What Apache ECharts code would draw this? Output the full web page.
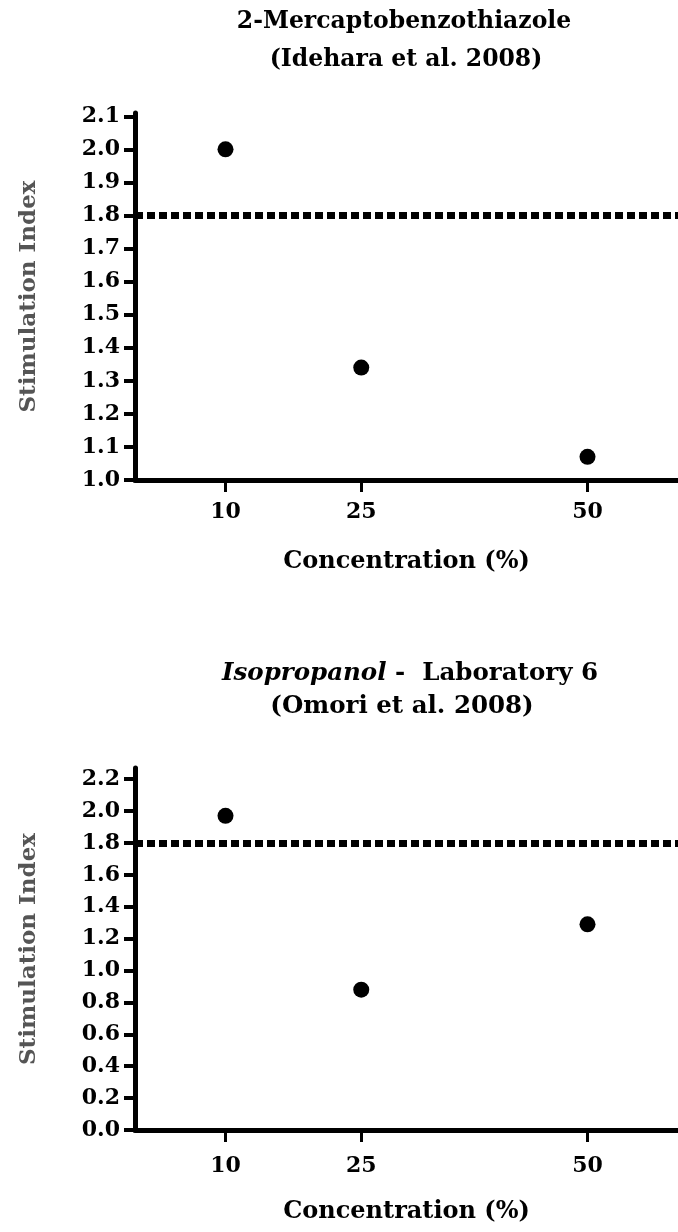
<!DOCTYPE html>
<html>
<head>
<meta charset="utf-8">
<script src="https://cdn.jsdelivr.net/npm/echarts@6/dist/echarts.min.js"></script>
<style>
html,body{margin:0;padding:0;background:#fff;}
#chart{width:678px;height:1232px;}
</style>
</head>
<body>
<div id="chart"></div>
<script>
// ---- data ----
const concentrations = [10, 25, 50];
const xTickValues = [10, 25, 50];
const mbtIndex = [2.00, 1.34, 1.07];          // 2-Mercaptobenzothiazole
const ippIndex = [1.97, 0.88, 1.29];          // Isopropanol - Laboratory 6
const yTicksTop = [1.0, 1.1, 1.2, 1.3, 1.4, 1.5, 1.6, 1.7, 1.8, 1.9, 2.0, 2.1];
const yTicksBottom = [0.0, 0.2, 0.4, 0.6, 0.8, 1.0, 1.2, 1.4, 1.6, 1.8, 2.0, 2.2];
const threshold = 1.8;
const title1Line1 = '2-Mercaptobenzothiazole';
const title1Line2 = '(Idehara et al. 2008)';
const title2Italic = 'Isopropanol';
const title2Rest = ' -  Laboratory 6';
const title2Line2 = '(Omori et al. 2008)';
const xName = 'Concentration (%)';
const yName = 'Stimulation Index';

// ---- styling ----
const FF = '"DejaVu Serif", serif';
const pairs = (xs, ys) => xs.map((x, i) => [x, ys[i]]);

function xAxisCfg(gridIndex, margin, nameGap) {
  return {
    type: 'value', gridIndex, min: 0, max: 60,
    name: xName, nameLocation: 'middle', nameGap,
    nameTextStyle: { fontFamily: FF, fontWeight: 'bold', fontSize: 24, color: '#000' },
    axisLine: { show: true, onZero: false, lineStyle: { color: '#000', width: 5 } },
    axisTick: { show: true, customValues: xTickValues, length: 12, lineStyle: { color: '#000', width: 3 } },
    axisLabel: { customValues: xTickValues, margin, fontFamily: FF, fontWeight: 'bold', fontSize: 22, color: '#000' },
    splitLine: { show: false }
  };
}
function yAxisCfg(gridIndex, min, max, ticks, fontSize) {
  return {
    type: 'value', gridIndex, min, max,
    name: yName, nameLocation: 'middle', nameGap: 94, nameRotate: 90,
    nameTextStyle: { fontFamily: FF, fontWeight: 'bold', fontSize: 23, color: '#555' },
    axisLine: { show: true, onZero: false, lineStyle: { color: '#000', width: 5 } },
    axisTick: { show: true, customValues: ticks, length: 11, lineStyle: { color: '#000', width: 4 } },
    axisLabel: { customValues: ticks, margin: 15, fontFamily: FF, fontWeight: 'bold', fontSize, color: '#000',
                 formatter: v => Number(v).toFixed(1) },
    splitLine: { show: false }
  };
}
function scatterCfg(idx, data) {
  return {
    type: 'scatter', xAxisIndex: idx, yAxisIndex: idx,
    data, symbol: 'circle', symbolSize: 16,
    itemStyle: { color: '#000', opacity: 1 },
    markLine: {
      silent: true, symbol: ['none', 'none'],
      label: { show: false },
      lineStyle: { color: '#000', width: 7, type: [8, 4], opacity: 1 },
      data: [{ yAxis: threshold }]
    }
  };
}

const chart = echarts.init(document.getElementById('chart'), null, { renderer: 'canvas' });
chart.setOption({
  animation: false,
  backgroundColor: '#fff',
  grid: [
    { left: 135, right: 0, top: 113, height: 367 },
    { left: 135, right: 0, top: 768, height: 362 }
  ],
  xAxis: [ xAxisCfg(0, 21, 70), xAxisCfg(1, 25, 70) ],
  yAxis: [ yAxisCfg(0, 1.0, 2.11, yTicksTop, 22), yAxisCfg(1, 0, 2.27, yTicksBottom, 22) ],
  series: [ scatterCfg(0, pairs(concentrations, mbtIndex)), scatterCfg(1, pairs(concentrations, ippIndex)) ],
  graphic: [
    { type: 'text', x: 404, y: 22, style: { text: title1Line1, fontFamily: FF, fontWeight: 'bold', fontSize: 23.5, fill: '#000', align: 'center', verticalAlign: 'middle' } },
    { type: 'text', x: 406, y: 60, style: { text: title1Line2, fontFamily: FF, fontWeight: 'bold', fontSize: 23.5, fill: '#000', align: 'center', verticalAlign: 'middle' } },
    { type: 'text', x: 410, y: 674, style: {
        text: '{i|' + title2Italic + '}{n|' + title2Rest + '}',
        rich: {
          i: { fontFamily: FF, fontWeight: 'bold', fontStyle: 'italic', fontSize: 24.5, fill: '#000' },
          n: { fontFamily: FF, fontWeight: 'bold', fontSize: 24.5, fill: '#000' }
        },
        fontFamily: FF, fontWeight: 'bold', fontSize: 24.5, fill: '#000', align: 'center', verticalAlign: 'middle' } },
    { type: 'text', x: 402, y: 707, style: { text: title2Line2, fontFamily: FF, fontWeight: 'bold', fontSize: 24.5, fill: '#000', align: 'center', verticalAlign: 'middle' } }
  ]
});
</script>
</body>
</html>
